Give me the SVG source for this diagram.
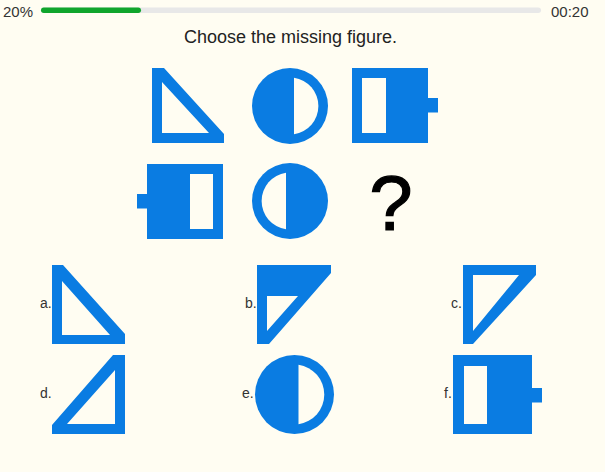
<svg xmlns="http://www.w3.org/2000/svg" width="605" height="472" viewBox="0 0 605 472">
<style>
.fig{fill:#0a7ce2}
.hole{fill:#fffdf2}
.tri{fill:#0a7ce2;fill-rule:evenodd}
.lbl{font-family:"Liberation Sans",Arial,sans-serif;font-size:14px;fill:#333}
.hdr{font-family:"Liberation Sans",Arial,sans-serif;font-size:15px;fill:#333}
</style>
<rect width="605" height="472" fill="#fffdf2"/>
<g id="header">
<text class="hdr" x="3" y="17">20%</text>
<rect x="41" y="7.5" width="500" height="5.5" rx="2.75" fill="#e8e8e8"/>
<rect x="41" y="7.5" width="100" height="5.5" rx="2.75" fill="#10a52c"/>
<text class="hdr" x="551" y="17">00:20</text>
<text x="290.5" y="43" text-anchor="middle" font-family="'Liberation Sans',Arial,sans-serif" font-size="18" fill="#222">Choose the missing figure.</text>
</g>
<g id="q-triangle">
<path class="tri" d="M152,68 H164 L224,134 V143 H152 Z M162,82 V133 H209 Z"/>
</g>
<g id="q-circle1">
<circle class="fig" cx="290" cy="106" r="38"/>
<path class="hole" d="M294,77.8 A28.5,28.5 0 0 1 294,134.2 Z"/>
</g>
<g id="q-battery1">
<rect class="fig" x="352" y="68" width="76" height="75"/>
<rect class="fig" x="427" y="98" width="11" height="14.5"/>
<rect class="hole" x="362" y="78" width="24" height="55"/>
</g>
<g id="q-battery2">
<rect class="fig" x="147" y="164" width="76" height="75"/>
<rect class="fig" x="137" y="194" width="11" height="14.5"/>
<rect class="hole" x="190" y="174" width="23" height="55"/>
</g>
<g id="q-circle2">
<circle class="fig" cx="290" cy="201" r="38"/>
<path class="hole" d="M286,172.8 A28.5,28.5 0 0 0 286,229.2 Z"/>
</g>
<g id="q-missing">
<text x="391" y="230" text-anchor="middle" font-family="'Liberation Sans',Arial,sans-serif" font-size="78" fill="#000" stroke="#000" stroke-width="1.2">?</text>
</g>
<g id="option-a">
<text class="lbl" x="40" y="308">a.</text>
<path class="tri" d="M52,265 H63 L125,334 V344 H52 Z M62,281 V335 H110 Z"/>
</g>
<g id="option-b">
<text class="lbl" x="245" y="308">b.</text>
<path class="tri" d="M257,265 H331 V273 L269,344 H257 Z M267,296 H298 L267,331 Z"/>
</g>
<g id="option-c">
<text class="lbl" x="451" y="308">c.</text>
<path class="tri" d="M463,265 H536 V275 L473,344 H463 Z M473,275 H519 L473,331 Z"/>
</g>
<g id="option-d">
<text class="lbl" x="40" y="398">d.</text>
<path class="tri" d="M113,355 H125 V434 H52 V425 Z M115,370 V424 H67 Z"/>
</g>
<g id="option-e">
<text class="lbl" x="242" y="398">e.</text>
<circle class="fig" cx="294.5" cy="394.5" r="39.5"/>
<path class="hole" d="M298.5,364.8 A30,30 0 0 1 298.5,424.2 Z"/>
</g>
<g id="option-f">
<text class="lbl" x="444" y="398">f.</text>
<rect class="fig" x="453" y="355" width="79" height="79"/>
<rect class="fig" x="531" y="388" width="11" height="14.5"/>
<rect class="hole" x="464" y="366" width="23" height="58"/>
</g>
</svg>
